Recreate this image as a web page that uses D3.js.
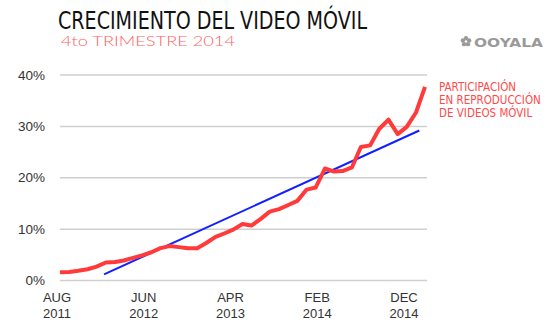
<!DOCTYPE html>
<html>
<head>
<meta charset="utf-8">
<script src="https://cdn.jsdelivr.net/npm/d3@7"></script>
<style>
  html, body { margin: 0; padding: 0; background: #fff; }
  svg { display: block; }
</style>
</head>
<body>
<svg id="chart" width="550" height="332"></svg>
<script>
// Monthly share of mobile video plays (%), Aug 2011 – Dec 2014
const firstMonth = new Date(2011, 7, 1);
const lastMonth = new Date(2014, 11, 1);
const mobileShare = [
  1.5, 1.55, 1.8, 2.1, 2.6, 3.4, 3.5, 3.8, 4.3, 4.8,
  5.4, 6.2, 6.6, 6.4, 6.2, 6.2, 7.2, 8.4, 9.1, 9.8,
  10.9, 10.6, 11.9, 13.3, 13.8, 14.6, 15.4, 17.6, 18.0, 21.7,
  21.1, 21.2, 21.9, 25.9, 26.2, 29.4, 31.2, 28.4, 29.8, 32.6,
  37.6
];
// Linear trend endpoints
const trendDates = [new Date(2011, 11, 26), new Date(2014, 10, 12)];
const trendValues = [1.1, 29.1];

const yTicks = [0, 10, 20, 30, 40];
const xTickMonths = ["AUG", "JUN", "APR", "FEB", "DEC"];
const xTickYears = ["2011", "2012", "2013", "2014", "2014"];

const titleText = "CRECIMIENTO DEL VIDEO MÓVIL";
const subtitleText = "4to TRIMESTRE 2014";
const seriesLabel = ["PARTICIPACIÓN", "EN REPRODUCCIÓN", "DE VIDEOS MÓVIL"];
const brandText = "OOYALA";

const months = d3.timeMonth.range(firstMonth, d3.timeMonth.offset(lastMonth, 1));
const points = months.map((m, i) => ({ date: m, value: mobileShare[i] }));
const trend = trendDates.map((d, i) => ({ date: d, value: trendValues[i] }));

const svg = d3.select("#chart");

const x = d3.scaleTime().domain([firstMonth, lastMonth]).range([60, 425]);
const y = d3.scaleLinear().domain([0, 40]).range([280, 74.5]);
const xLabel = d3.scalePoint().domain(d3.range(xTickMonths.length)).range([57, 404]);

// Gridlines + y labels
const yAxis = d3.axisLeft(y)
  .tickValues(yTicks)
  .tickSize(-367)
  .tickPadding(15)
  .tickFormat(d => d + "%");

const gy = svg.append("g")
  .attr("transform", "translate(427,0)")
  .call(yAxis.tickSize(367).tickPadding(0));
gy.select(".domain").remove();
gy.selectAll(".tick line")
  .attr("x1", -367).attr("x2", 0)
  .attr("stroke", "#cfcfcf").attr("stroke-width", 1.5);
gy.selectAll(".tick text")
  .attr("x", -382)
  .attr("dy", "0.35em")
  .attr("text-anchor", "end")
  .attr("fill", "#333")
  .style("font-family", "'Liberation Sans', Arial, sans-serif")
  .style("font-size", "13.5px");

// x labels (two lines)
const gx = svg.append("g");
const xt = gx.selectAll("g").data(xTickMonths).join("g")
  .attr("transform", (d, i) => `translate(${xLabel(i)},0)`);
xt.append("text")
  .attr("y", 302)
  .attr("text-anchor", "middle")
  .attr("fill", "#333")
  .style("font-family", "'Liberation Sans', Arial, sans-serif")
  .style("font-size", "13px")
  .text(d => d);
xt.append("text")
  .attr("y", 318)
  .attr("text-anchor", "middle")
  .attr("fill", "#333")
  .style("font-family", "'Liberation Sans', Arial, sans-serif")
  .style("font-size", "13px")
  .text((d, i) => xTickYears[i]);

// Trend line
svg.append("path")
  .datum(trend)
  .attr("fill", "none")
  .attr("stroke", "#1020ff")
  .attr("stroke-width", 2)
  .attr("d", d3.line().x(d => x(d.date)).y(d => y(d.value)));

// Mobile share line
svg.append("path")
  .datum(points)
  .attr("fill", "none")
  .attr("stroke", "#ff3a3a")
  .attr("stroke-width", 4)
  .attr("stroke-linejoin", "round")
  .attr("d", d3.line().x(d => x(d.date)).y(d => y(d.value)));

// Series label
svg.append("g").selectAll("text").data(seriesLabel).join("text")
  .attr("x", 439)
  .attr("y", (d, i) => 91 + i * 13)
  .attr("fill", "#ff4a4a")
  .style("font-family", "'Liberation Sans Narrow', 'DejaVu Sans Condensed', sans-serif")
  .style("font-size", "11.5px")
  .text(d => d);

// Title and subtitle
svg.append("text")
  .attr("x", 58)
  .attr("y", 28.5)
  .attr("fill", "#111")
  .attr("textLength", 309)
  .attr("lengthAdjust", "spacingAndGlyphs")
  .style("font-family", "'Liberation Sans Narrow', 'DejaVu Sans Condensed', sans-serif")
  .style("font-size", "24px")
  .text(titleText);

svg.append("text")
  .attr("x", 61)
  .attr("y", 46)
  .attr("fill", "#ff6262")
  .attr("textLength", 174)
  .attr("lengthAdjust", "spacingAndGlyphs")
  .style("font-family", "Lato, 'Open Sans', sans-serif")
  .style("font-weight", 300)
  .style("font-size", "13.5px")
  .text(subtitleText);

// Brand mark
const brand = svg.append("g").attr("transform", "translate(466,41.5)");
const petals = d3.range(5).map(k => k * 72 - 90);
brand.selectAll("circle").data(petals).join("circle")
  .attr("cx", a => 3.3 * Math.cos(a * Math.PI / 180))
  .attr("cy", a => 3.3 * Math.sin(a * Math.PI / 180))
  .attr("r", 2.2)
  .attr("fill", "#9a9a9a");
svg.append("text")
  .attr("x", 474)
  .attr("y", 46.5)
  .attr("fill", "#9a9a9a")
  .attr("textLength", 69)
  .attr("lengthAdjust", "spacingAndGlyphs")
  .style("font-family", "'DejaVu Sans', sans-serif")
  .style("font-weight", "bold")
  .style("font-size", "13px")
  .text(brandText);
</script>
</body>
</html>
